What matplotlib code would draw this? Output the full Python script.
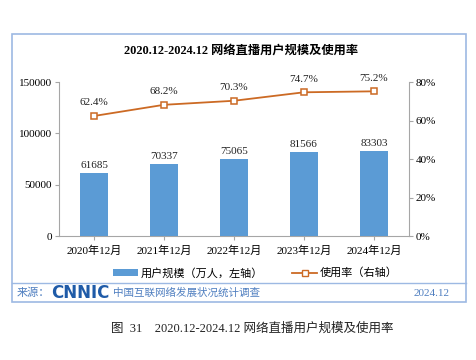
import matplotlib
matplotlib.use("Agg")
import matplotlib.pyplot as plt
from matplotlib.patches import Rectangle
from matplotlib.lines import Line2D
from matplotlib.patches import Patch

plt.rcParams['font.family'] = ['Liberation Serif', 'Noto Sans CJK SC']

categories = ["2020年12月", "2021年12月", "2022年12月", "2023年12月", "2024年12月"]
users = [61685, 70337, 75065, 81566, 83303]
rate = [62.4, 68.2, 70.3, 74.7, 75.2]
left_ticks = [0, 50000, 100000, 150000]
right_ticks = [0, 20, 40, 60, 80]

title = "2020.12-2024.12 网络直播用户规模及使用率"
legend_bar = "用户规模（万人，左轴）"
legend_line = "使用率（右轴）"

bar_color = "#5B9BD5"
line_color = "#CC6A24"
border_color = "#9DB9E3"
footer_color = "#4F7FC0"
axis_gray = "#A6A6A6"

fig = plt.figure(figsize=(4.76, 3.6), dpi=100)

# border
fig.add_artist(Rectangle((0.025, 0.161), 0.954, 0.745, transform=fig.transFigure,
                         fill=False, edgecolor=border_color, linewidth=1.2, zorder=1))
fig.add_artist(Line2D([0.025, 0.979], [0.214, 0.214], transform=fig.transFigure,
                      color=border_color, linewidth=1.0, zorder=1))

ax = fig.add_axes([0.124, 0.344, 0.735, 0.428])
ax.patch.set_alpha(0)
x = list(range(len(categories)))
ax.bar(x, users, width=0.4, color=bar_color, zorder=3)
for xi, v in zip(x, users):
    ax.text(xi, v + 3000, f"{v}", ha="center", va="bottom", fontsize=8, color="#222222")
ax.set_ylim(0, 150000)
ax.set_xlim(-0.5, len(categories) - 0.5)
ax.set_yticks(left_ticks)
ax.set_yticklabels([str(t) for t in left_ticks], fontsize=8)
ax.set_xticks(x)
ax.set_xticklabels(categories, fontsize=8)
for s in ["top", "right"]:
    ax.spines[s].set_visible(False)
for s in ["left", "bottom"]:
    ax.spines[s].set_color(axis_gray)
    ax.spines[s].set_linewidth(0.8)
ax.tick_params(axis="y", length=3, color=axis_gray, pad=2)
ax.tick_params(axis="x", length=3, color=axis_gray, pad=4)

ax2 = ax.twinx()
ax2.patch.set_alpha(0)
ax2.plot(x, rate, color=line_color, linewidth=1.3, marker="s", markersize=5,
         markerfacecolor="white", markeredgecolor=line_color, markeredgewidth=1.1, zorder=4)
for xi, r in zip(x, rate):
    ax2.text(xi, r + 4.5, f"{r}%", ha="center", va="bottom", fontsize=8, color="#222222")
ax2.set_ylim(0, 80)
ax2.set_yticks(right_ticks)
ax2.set_yticklabels([f"{t}%" for t in right_ticks], fontsize=8)
for s in ["top", "left", "bottom"]:
    ax2.spines[s].set_visible(False)
ax2.spines["right"].set_color(axis_gray)
ax2.spines["right"].set_linewidth(0.8)
ax2.tick_params(axis="y", length=3, color=axis_gray, pad=2)

fig.text(0.506, 0.858, title, ha="center", va="center", fontsize=8.8, fontweight="bold")

handles = [Patch(facecolor=bar_color, edgecolor="none"),
           Line2D([0], [0], color=line_color, linewidth=1.3, marker="s", markersize=5,
                  markerfacecolor="white", markeredgecolor=line_color)]
fig.legend(handles, [legend_bar, legend_line], loc="center", bbox_to_anchor=(0.537, 0.242),
           ncol=2, frameon=False, fontsize=8, handlelength=2.2, handleheight=0.5,
           columnspacing=2.6, handletextpad=0.3)

fig.text(0.034, 0.186, "来源：", fontsize=8, color=footer_color, va="center")
fig.text(0.108, 0.186, "CNNIC", fontsize=12, color="#1F5BA8", va="center",
         family="DejaVu Sans", fontweight="bold")
fig.text(0.237, 0.186, "中国互联网络发展状况统计调查", fontsize=7.6, color=footer_color, va="center")
fig.text(0.944, 0.186, "2024.12", fontsize=8, color=footer_color, va="center", ha="right")

fig.text(0.53, 0.086, "图  31    2020.12-2024.12 网络直播用户规模及使用率", fontsize=9,
         ha="center", va="center", color="#222222")

fig.savefig("out.png", dpi=100)
